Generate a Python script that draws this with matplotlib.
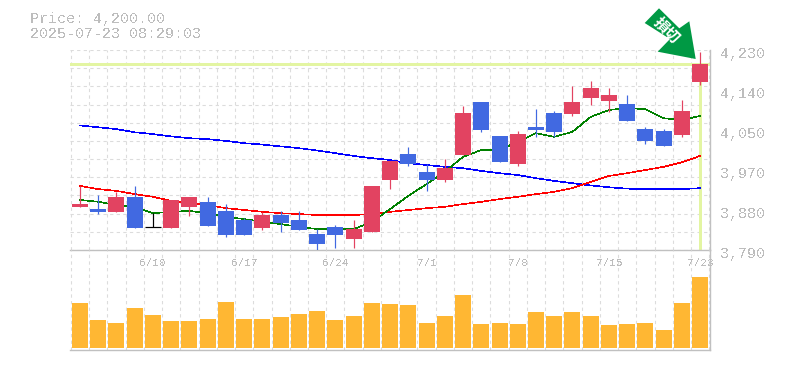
import numpy as np
import matplotlib
matplotlib.use("Agg")
import matplotlib.pyplot as plt

plt.rcParams["font.family"] = ["Liberation Mono", "DejaVu Sans Mono"]
plt.rcParams["text.antialiased"] = False

# ---- data ----
title_lines = ["Price: 4,200.00", "2025-07-23 08:29:03"]
last_price = 4200
open_ = [3885, 3880, 3874, 3907, 3840, 3838, 3885, 3896, 3876, 3856, 3838, 3867, 3856, 3825, 3841, 3814, 3830, 3944,
         4001, 3962, 3944, 3999, 4116, 4041, 3979, 4061, 4091, 4089, 4124, 4118, 4111, 4056, 4052, 4043, 4160]
close = [3891, 3874, 3907, 3838, 3840, 3900, 3907, 3843, 3823, 3823, 3867, 3849, 3834, 3803, 3823, 3836, 3931, 3986,
         3979, 3944, 3970, 4091, 4054, 3984, 4045, 4054, 4050, 4116, 4146, 4131, 4074, 4030, 4019, 4096, 4200]
high = [3931, 3911, 3918, 3931, 3871, 3900, 3907, 3907, 3891, 3860, 3874, 3876, 3876, 3836, 3845, 3856, 3931, 3986,
        4017, 3979, 3990, 4107, 4116, 4041, 4052, 4100, 4096, 4151, 4162, 4146, 4131, 4061, 4056, 4120, 4226]
low = [3885, 3869, 3874, 3838, 3840, 3838, 3865, 3843, 3819, 3823, 3834, 3830, 3834, 3790, 3794, 3794, 3830, 3924,
       3975, 3920, 3940, 3999, 4050, 3984, 3975, 4039, 4039, 4085, 4109, 4094, 4074, 4023, 4019, 4039, 4153]
ma_green = [3900, 3896, 3889, 3885, 3871, 3874, 3876, 3871, 3863, 3858, 3852, 3847, 3841, 3836, 3836, 3836, 3852, 3880,
            3909, 3935, 3962, 3995, 4010, 4010, 4028, 4047, 4039, 4050, 4083, 4098, 4102, 4100, 4080, 4076, 4085]
ma_red = [3931, 3924, 3920, 3913, 3907, 3898, 3893, 3889, 3882, 3878, 3874, 3871, 3869, 3867, 3867, 3867, 3869, 3874,
          3878, 3882, 3885, 3891, 3896, 3902, 3907, 3913, 3918, 3926, 3940, 3953, 3959, 3966, 3973, 3983, 3997]
ma_blue = [4064, 4060, 4056, 4049, 4045, 4040, 4036, 4034, 4030, 4025, 4022, 4018, 4014, 4009, 4003, 3997, 3992, 3988,
           3981, 3977, 3973, 3970, 3964, 3959, 3955, 3948, 3942, 3937, 3932, 3928, 3925, 3924, 3924, 3924, 3926]
volume = [45, 28, 25, 40, 33, 27, 27, 29, 46, 29, 29, 31, 34, 37, 28, 32, 45, 44,
          43, 25, 32, 53, 24, 25, 24, 36, 32, 36, 32, 23, 24, 25, 18, 45, 71]
date_idx = [4, 9, 14, 19, 24, 29, 34]
date_labels = ["6/10", "6/17", "6/24", "7/1", "7/8", "7/15", "7/23"]
price_ticks = [4230, 4142, 4054, 3966, 3878, 3790]
price_labels = ["4,230", "4,140", "4,050", "3,970", "3,880", "3,790"]
badge_text = "損切"

RED, BLUE, ORANGE = "#e24361", "#4169e1", "#ffb733"
GRID, AXIS, TXT = "#dcdcdc", "#c0c0c0", "#bdbdbd"
HILITE = "#e3f5a2"
PX = 0.72  # one pixel in points at dpi 100

W, H = 785, 370


def panel(x0, y0, x1, y1):
    return fig.add_axes([x0 / W, 1 - y1 / H, (x1 - x0) / W, (y1 - y0) / H])


fig = plt.figure(figsize=(W / 100, H / 100), dpi=100)
ax = panel(70, 50, 710, 250)
av = panel(70, 250, 710, 350)
x = np.arange(len(close))
open_, close, high, low = map(np.array, (open_, close, high, low))

for a in (ax, av):
    a.set_xlim(-0.548, 34.54)
    a.set_xticks(np.arange(-0.5, 34.6, 1), minor=True)
    a.set_xticks([])
    a.grid(which="minor", axis="x", color=GRID, lw=PX * 1.1, ls=(0, (3, 3)))
    a.tick_params(which="both", length=0, labelbottom=False, labelleft=False)
    a.set_axisbelow(True)
    a.spines[["top", "left"]].set_visible(False)
    a.spines[["right", "bottom"]].set_color(AXIS)
    a.spines[["right", "bottom"]].set_linewidth(PX * 1.4)
    a.patch.set_alpha(0)

# ---- price panel ----
ax.set_ylim(3790, 4230)
ax.set_yticks(np.arange(3790, 4231, 40))
ax.grid(axis="y", color=GRID, lw=PX * 1.1, ls=(0, (3, 3)))

ax.axhline(last_price, color=HILITE, lw=PX * 3, zorder=1.5)
ax.vlines(x[-1], 3790, last_price, color=HILITE, lw=PX * 3, zorder=1.5)

ax.plot(x, ma_blue, color="#0000ff", lw=PX * 0.6, antialiased=False, zorder=2)
ax.plot(x, ma_red, color="#ff0000", lw=PX * 0.6, antialiased=False, zorder=2)
ax.plot(x, ma_green, color="#008000", lw=PX * 0.6, antialiased=False, zorder=2)

colors = np.where(close > open_, RED, np.where(close < open_, BLUE, "#000000"))
ax.vlines(x, low, high, colors=colors, lw=PX * 1.2, zorder=3)
ax.bar(x, close - open_, bottom=open_, width=0.877, color=colors, lw=0, zorder=4)
doji = close == open_
ax.hlines(close[doji], x[doji] - 0.44, x[doji] + 0.44, colors="#000000", lw=PX * 1.2, zorder=4)

# price labels sit a little below their level in the original
for p, s in zip(price_ticks, price_labels):
    ax.annotate(s, xy=(1, p), xycoords=("axes fraction", "data"), xytext=(10 * PX, -4 * PX),
                textcoords="offset points", va="center", ha="left", fontsize=15 * PX, color=TXT,
                annotation_clip=False)

# ---- volume panel ----
av.set_ylim(-2, 98)
av.bar(x, volume, width=0.877, color=ORANGE, lw=0, zorder=3)
for i, s in zip(date_idx, date_labels):
    av.annotate(s, xy=(i, 1), xycoords=("data", "axes fraction"), xytext=(0, -12.5 * PX),
                textcoords="offset points", ha="center", va="center", fontsize=11 * PX, color=TXT,
                annotation_clip=False, zorder=5)

# ---- overlay in pixel coordinates: header text and the badge arrow ----
ov = fig.add_axes([0, 0, 1, 1])
ov.set_xlim(0, W)
ov.set_ylim(H, 0)
ov.axis("off")
ov.patch.set_alpha(0)
ov.text(30, 18.5, title_lines[0], fontsize=15 * PX, color=TXT, va="center", ha="left")
ov.text(30, 33.5, title_lines[1], fontsize=15 * PX, color=TXT, va="center", ha="left")
arrow = [(644.7, 23), (659, 8.3), (679.3, 28.3), (689.3, 21.3), (695.7, 59), (657.7, 51.7), (670, 39)]
ov.add_patch(plt.Polygon(arrow, closed=True, color="#009944", lw=0))
ov.text(666.7, 30, badge_text, rotation=-45, rotation_mode="anchor", ha="center", va="center", antialiased=True,
        fontsize=15 * PX, color="white", fontweight="bold", family=["Noto Sans CJK JP", "DejaVu Sans"])

fig.savefig("out.png", dpi=100)
